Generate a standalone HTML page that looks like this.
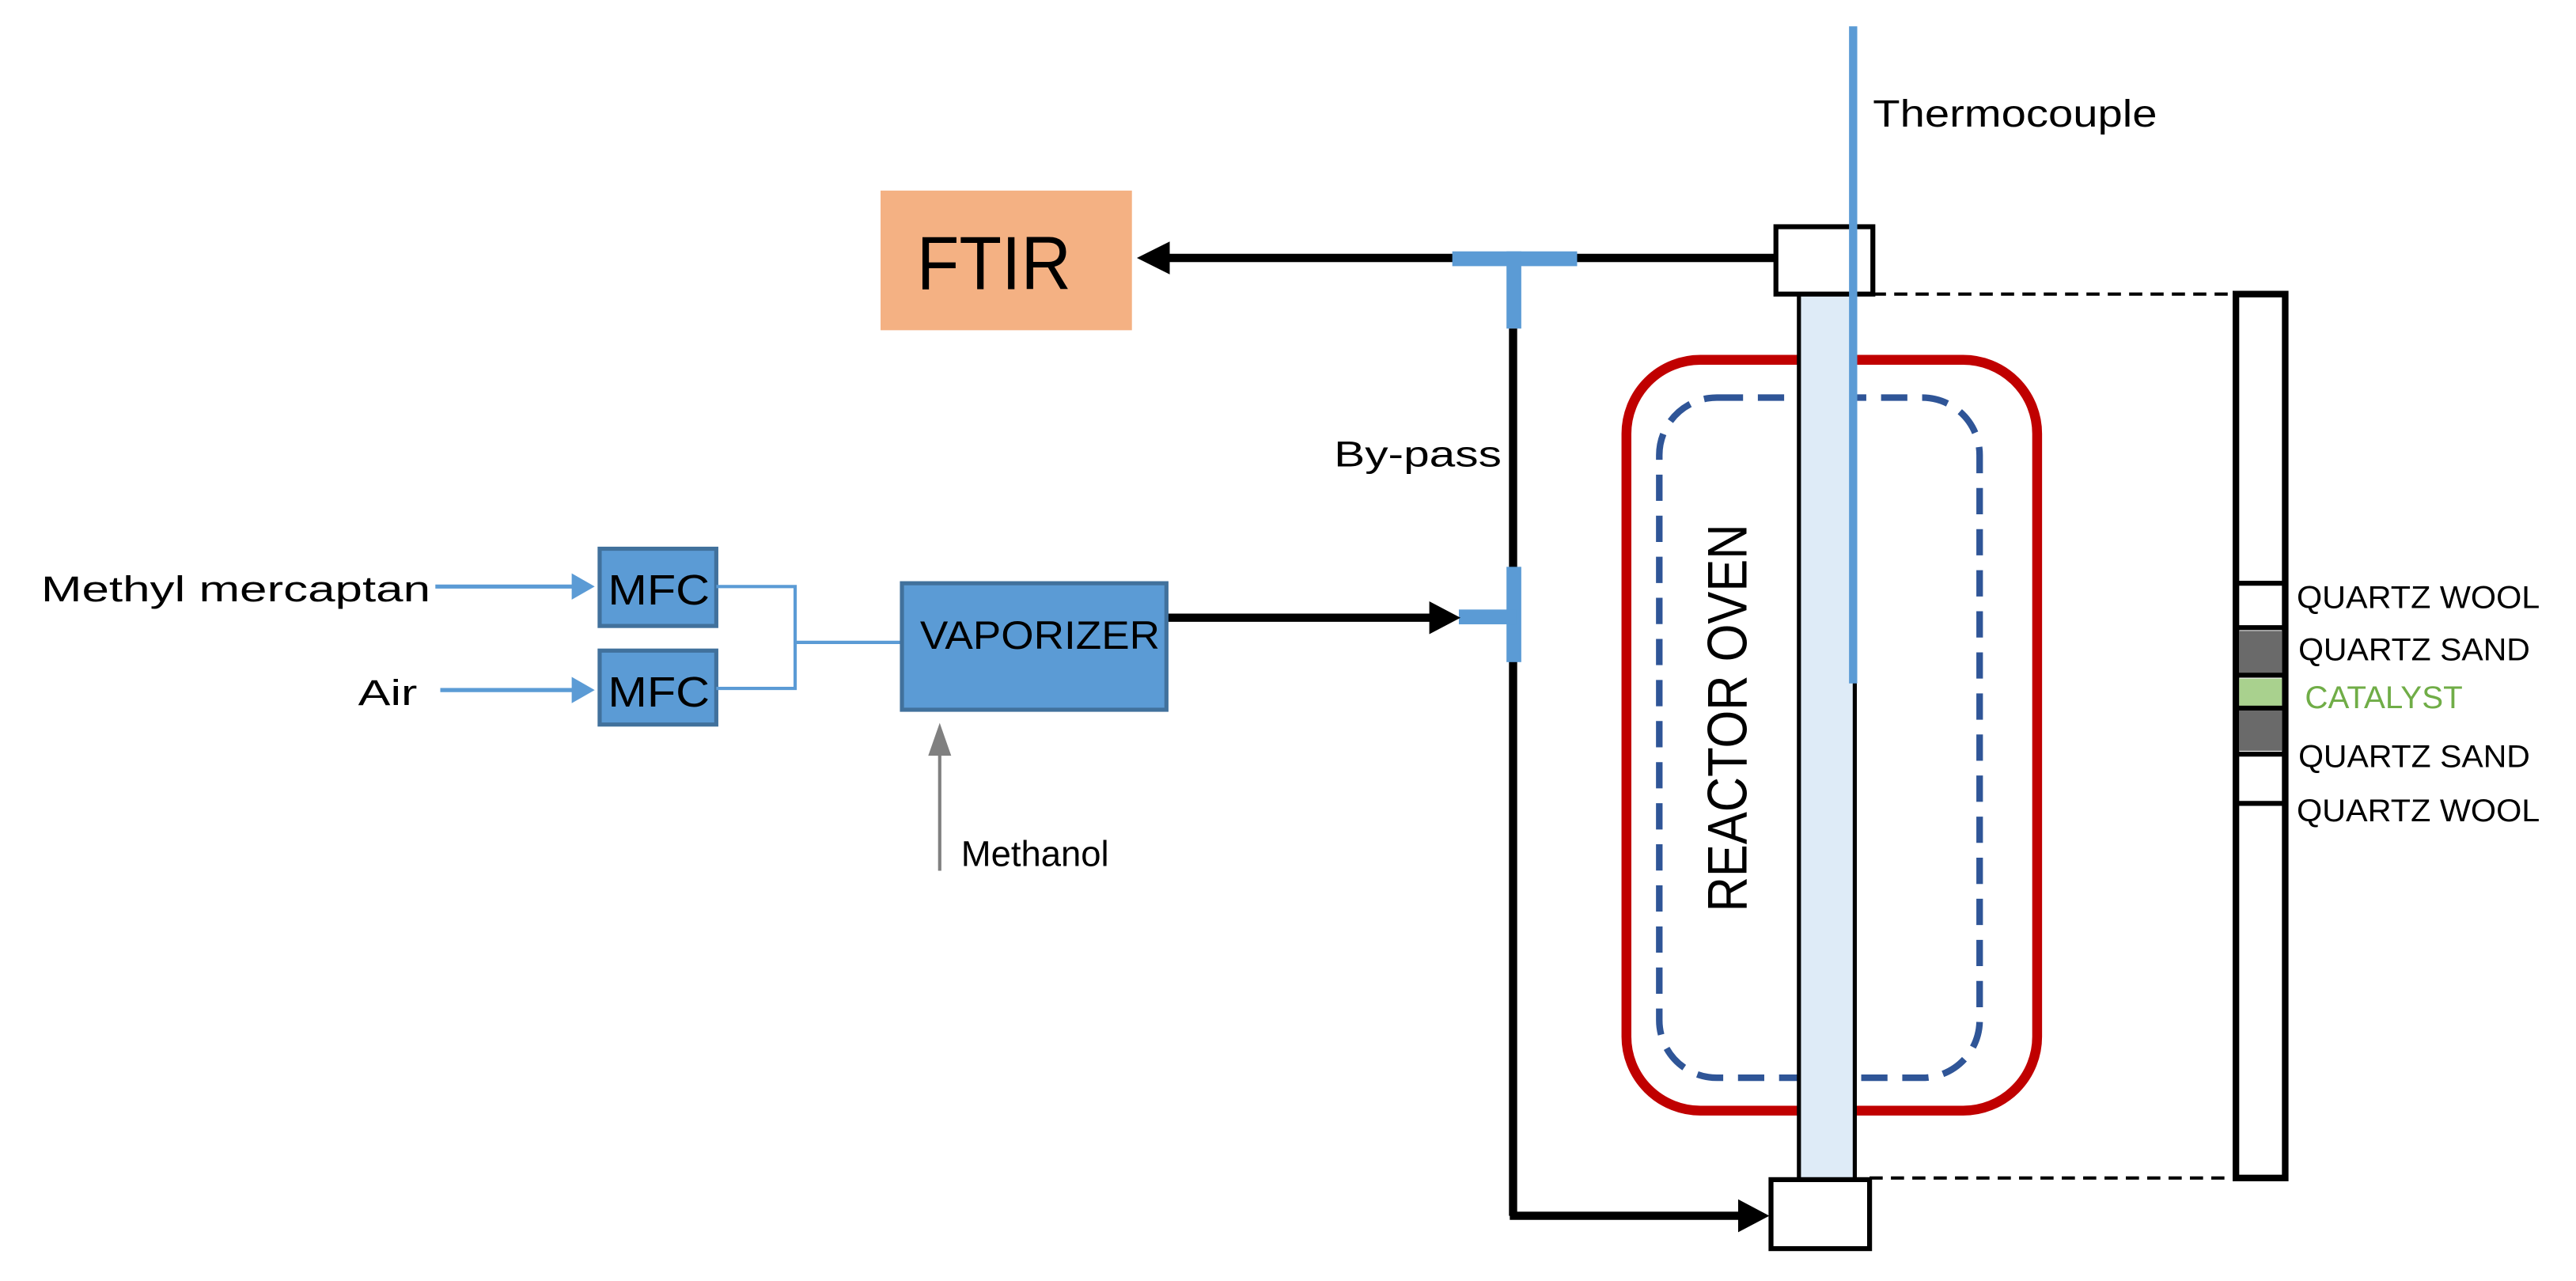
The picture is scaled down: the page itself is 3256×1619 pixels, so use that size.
<!DOCTYPE html>
<html><head><meta charset="utf-8"><style>html,body{margin:0;padding:0;background:#fff}svg{display:block}</style></head>
<body>
<svg width="3256" height="1619" viewBox="0 0 1568 779.7" preserveAspectRatio="none" xmlns="http://www.w3.org/2000/svg" font-family="Liberation Sans, sans-serif">
<rect x="536" y="116" width="153" height="85" fill="#f4b183"/>
<text x="558" y="176" font-size="46" textLength="94" lengthAdjust="spacingAndGlyphs">FTIR</text>
<line x1="1081" y1="157" x2="706" y2="157" stroke="#000" stroke-width="5"/>
<polygon points="692,157 712,147 712,167" fill="#000"/>
<rect x="884" y="153" width="76" height="9" fill="#5b9bd5"/>
<rect x="917" y="153" width="9" height="47" fill="#5b9bd5"/>
<line x1="921" y1="200" x2="921" y2="740" stroke="#000" stroke-width="5"/>
<line x1="919" y1="740" x2="1062" y2="740" stroke="#000" stroke-width="5"/>
<polygon points="1077,740 1058,730 1058,750" fill="#000"/>
<rect x="917" y="345" width="9" height="58" fill="#5b9bd5"/>
<rect x="888" y="371" width="35" height="9" fill="#5b9bd5"/>
<line x1="710" y1="376" x2="872" y2="376" stroke="#000" stroke-width="5"/>
<polygon points="889,376 870,366 870,386" fill="#000"/>
<text x="812" y="284" font-size="22" textLength="102" lengthAdjust="spacingAndGlyphs">By-pass</text>
<rect x="990" y="219" width="250" height="457" rx="45" fill="none" stroke="#c00000" stroke-width="6"/>
<rect x="1010" y="242" width="195" height="414" rx="35" fill="none" stroke="#2f5597" stroke-width="4" stroke-dasharray="16,9"/>
<text transform="translate(1063,555) rotate(-90)" font-size="34" textLength="236" lengthAdjust="spacingAndGlyphs">REACTOR OVEN</text>
<rect x="1095" y="178" width="34" height="540" fill="#deebf7" stroke="#000" stroke-width="2.5"/>
<rect x="1081" y="138" width="59" height="41" fill="#fff" stroke="#000" stroke-width="3"/>
<rect x="1078" y="718" width="60" height="42" fill="#fff" stroke="#000" stroke-width="3"/>
<line x1="1128" y1="16" x2="1128" y2="416" stroke="#5b9bd5" stroke-width="5"/>
<text x="1140" y="77" font-size="23" textLength="173" lengthAdjust="spacingAndGlyphs">Thermocouple</text>
<line x1="1140" y1="179" x2="1360" y2="179" stroke="#000" stroke-width="2" stroke-dasharray="8,5"/>
<line x1="1138" y1="717" x2="1360" y2="717" stroke="#000" stroke-width="2" stroke-dasharray="8,5"/>
<rect x="1361" y="179" width="30" height="538" fill="#fff" stroke="#000" stroke-width="4"/>
<rect x="1363" y="384" width="26" height="26" fill="#6a6a6a"/>
<rect x="1363" y="413" width="26" height="17" fill="#a9d18e"/>
<rect x="1363" y="431" width="26" height="26" fill="#6a6a6a"/>
<line x1="1361" y1="355" x2="1391" y2="355" stroke="#000" stroke-width="3"/>
<line x1="1361" y1="382" x2="1391" y2="382" stroke="#000" stroke-width="3"/>
<line x1="1361" y1="411" x2="1391" y2="411" stroke="#000" stroke-width="3"/>
<line x1="1361" y1="431" x2="1391" y2="431" stroke="#000" stroke-width="3"/>
<line x1="1361" y1="459" x2="1391" y2="459" stroke="#000" stroke-width="3"/>
<line x1="1361" y1="489" x2="1391" y2="489" stroke="#000" stroke-width="3"/>
<g font-size="19">
<text x="1398" y="370" textLength="148" lengthAdjust="spacingAndGlyphs">QUARTZ WOOL</text>
<text x="1399" y="402" textLength="141" lengthAdjust="spacingAndGlyphs">QUARTZ SAND</text>
<text x="1403" y="431" fill="#70ad47" textLength="96" lengthAdjust="spacingAndGlyphs">CATALYST</text>
<text x="1399" y="467" textLength="141" lengthAdjust="spacingAndGlyphs">QUARTZ SAND</text>
<text x="1398" y="500" textLength="148" lengthAdjust="spacingAndGlyphs">QUARTZ WOOL</text>
</g>
<text x="25" y="366" font-size="22" textLength="237" lengthAdjust="spacingAndGlyphs">Methyl mercaptan</text>
<text x="218" y="429" font-size="22" textLength="36" lengthAdjust="spacingAndGlyphs">Air</text>
<line x1="265" y1="357" x2="350" y2="357" stroke="#5b9bd5" stroke-width="2.5"/>
<polygon points="362,357 348,349 348,365" fill="#5b9bd5"/>
<line x1="268" y1="420" x2="350" y2="420" stroke="#5b9bd5" stroke-width="2.5"/>
<polygon points="362,420 348,412 348,428" fill="#5b9bd5"/>
<rect x="365" y="334" width="71" height="47" fill="#5b9bd5" stroke="#41719c" stroke-width="2.5"/>
<rect x="365" y="396" width="71" height="45" fill="#5b9bd5" stroke="#41719c" stroke-width="2.5"/>
<text x="370" y="368" font-size="26" textLength="62" lengthAdjust="spacingAndGlyphs">MFC</text>
<text x="370" y="430" font-size="26" textLength="62" lengthAdjust="spacingAndGlyphs">MFC</text>
<polyline points="436,357 484,357 484,419 436,419" fill="none" stroke="#5b9bd5" stroke-width="2"/>
<line x1="484" y1="391" x2="549" y2="391" stroke="#5b9bd5" stroke-width="2"/>
<rect x="549" y="355" width="161" height="77" fill="#5b9bd5" stroke="#41719c" stroke-width="2.5"/>
<text x="560" y="395" font-size="24" textLength="146" lengthAdjust="spacingAndGlyphs">VAPORIZER</text>
<line x1="572" y1="530" x2="572" y2="455" stroke="#808080" stroke-width="2"/>
<polygon points="572,440 565,460 579,460" fill="#808080"/>
<text x="585" y="527" font-size="22" textLength="90" lengthAdjust="spacingAndGlyphs">Methanol</text>
</svg>
</body></html>
